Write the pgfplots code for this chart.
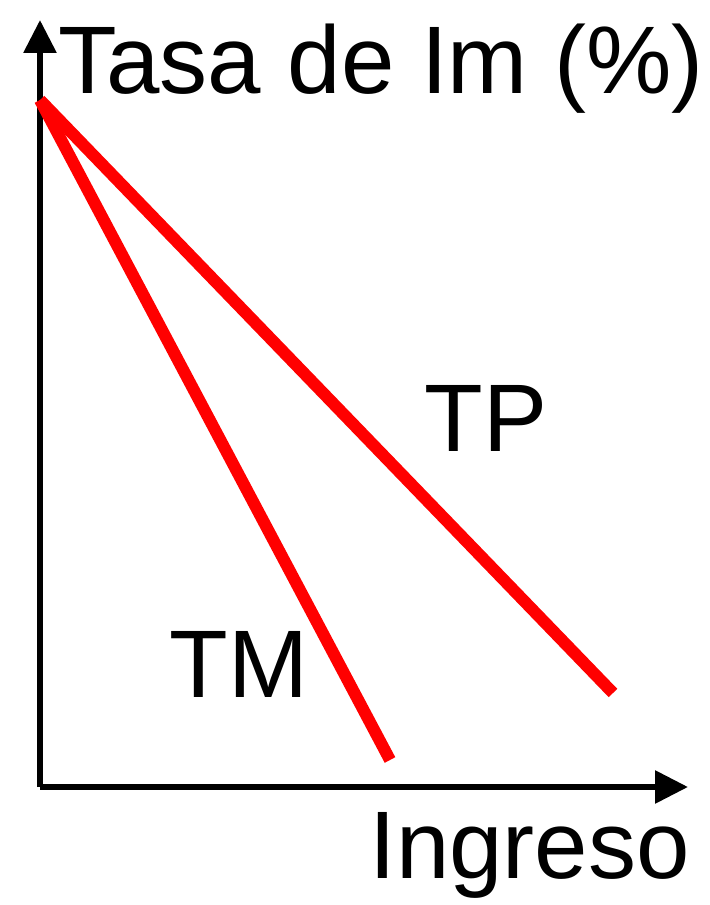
\documentclass[border=0pt]{standalone}
\usepackage{fontspec}
\setmainfont{Liberation Sans}
\usepackage{pgfplots}
\pgfplotsset{compat=1.18}
\usetikzlibrary{arrows.meta}
\tikzset{big/.style={anchor=base west, inner sep=0pt, font=\fontsize{48}{58}\selectfont}}
\begin{document}
\begin{tikzpicture}
\begin{axis}[
    scale only axis,
    width=324pt, height=383.5pt,
    xmin=0, xmax=648, ymin=0, ymax=767,
    axis lines=left,
    separate axis lines,
    x axis line style={line width=3pt, -{Triangle[length=16.5pt,width=16pt]}},
    y axis line style={line width=3pt, -{Triangle[length=16.5pt,width=16pt]}},
    ticks=none,
    clip=false,
  ]
% TM
\addplot [red, line width=6pt] coordinates {(0,687) (350,27)};
% TP
\addplot [red, line width=6pt] coordinates {(0,687) (573,94)};
\node[big] at (axis cs:18,693) {Tasa de Im (\%)};
\node[big] at (axis cs:384,335) {TP};
\node[big] at (axis cs:129,90) {TM};
\node[big] at (axis cs:329,-91) {Ingreso};
\end{axis}
\pgfresetboundingbox
\path[use as bounding box] (-20pt,-59pt) rectangle (334.5pt,393.5pt);
\end{tikzpicture}
\end{document}
